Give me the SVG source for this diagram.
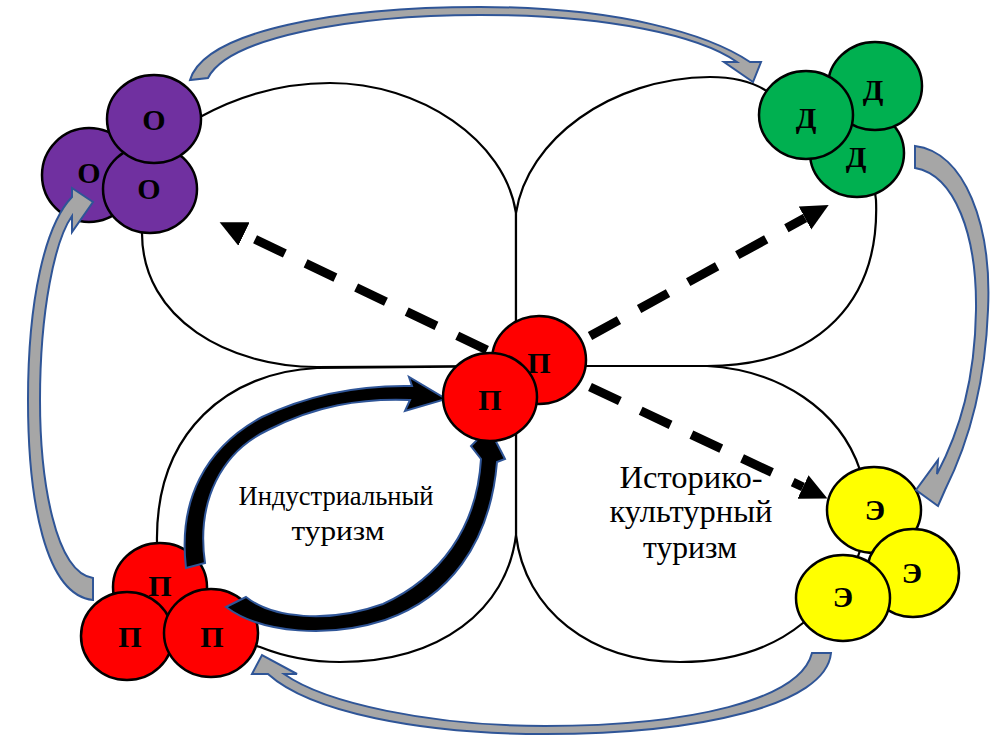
<svg xmlns="http://www.w3.org/2000/svg" width="993" height="736" viewBox="0 0 993 736">
  <defs>
    <style>
      .petal { fill: #ffffff; stroke: #000000; stroke-width: 2.2; stroke-linejoin: round; }
      .dash { fill: none; stroke: #000000; stroke-width: 9; stroke-dasharray: 33 23; marker-end: url(#dhead); }
      .garrow { fill: #A6A6A6; stroke: #2F5597; stroke-width: 2; stroke-linejoin: miter; }
      .barrow { fill: #000000; stroke: #2F5597; stroke-width: 2; stroke-linejoin: miter; }
      .ball { stroke: #000000; stroke-width: 2.5; }
      .purple { fill: #7030A0; }
      .green { fill: #00B050; }
      .red { fill: #FF0000; }
      .yellow { fill: #FFFF00; }
      .lbl { font-family: "Liberation Serif", "DejaVu Serif", serif; font-weight: bold; font-size: 30px; text-anchor: middle; fill: #000000; }
      .cap { font-family: "Liberation Serif", "DejaVu Serif", serif; font-size: 27px; text-anchor: middle; fill: #000000; }
      .cap-lg { font-family: "Liberation Serif", "DejaVu Serif", serif; font-size: 31px; text-anchor: middle; fill: #000000; }
    </style>
    <marker id="dhead" markerUnits="userSpaceOnUse" markerWidth="28" markerHeight="28" viewBox="0 0 28 28" refX="0" refY="14" orient="auto">
      <path d="M0,1 L27,14 L0,27 Z" fill="#000000"/>
    </marker>
  </defs>

  <rect width="993" height="736" fill="#ffffff"/>

  <!-- four lobes meeting at the centre -->
  <g id="petals">
    <path id="petal-tl" class="petal" d="M516,366 L317,367 C230,367 142,320 142,233 C142,180 165,130 200,117 C240,95 285,83 330,83 C420,83 505,140 516,213 Z"/>
    <path id="petal-tr" class="petal" d="M516,366 L516,213 C527,140 610,78 710,77 C735,77 752,82 765,90 C830,120 872,150 876,200 C880,300 820,366 707,366 Z"/>
    <path id="petal-br" class="petal" d="M516,366 L707,366 C780,370 840,410 860,470 C880,530 850,600 803,623 C770,650 730,662 680,662 C590,662 525,610 516,535 Z"/>
    <path id="petal-bl" class="petal" d="M516,366 L317,368 C230,372 155,430 157,543 C157,600 200,630 260,647 C285,657 310,662 340,662 C440,662 507,610 516,535 Z"/>
  </g>

  <!-- labels -->
  <g id="label-industrial">
    <text class="cap" x="336" y="505" textLength="195" lengthAdjust="spacingAndGlyphs">Индустриальный</text>
    <text class="cap" x="338" y="540" textLength="93" lengthAdjust="spacingAndGlyphs">туризм</text>
  </g>
  <g id="label-heritage">
    <text class="cap-lg" x="691" y="488" textLength="143" lengthAdjust="spacingAndGlyphs">Историко-</text>
    <text class="cap-lg" x="691" y="522" textLength="163" lengthAdjust="spacingAndGlyphs">культурный</text>
    <text class="cap-lg" x="690" y="558" textLength="94" lengthAdjust="spacingAndGlyphs">туризм</text>
  </g>

  <!-- dashed links from the centre -->
  <g id="connectors">
    <path class="dash" d="M487,350 L244,234"/>
    <path class="dash" d="M590,336 L805,218"/>
    <path class="dash" d="M590,387 L803,487"/>
  </g>

  <!-- industrial cluster (bottom left) -->
  <g id="node-p-cluster">
    <ellipse class="ball red" cx="160" cy="587" rx="47" ry="44"/>
    <text class="lbl" x="160" y="596">П</text>
    <ellipse class="ball red" cx="127" cy="636" rx="46" ry="44"/>
    <text class="lbl" x="130" y="647">П</text>
    <ellipse class="ball red" cx="211" cy="633" rx="47" ry="44"/>
    <text class="lbl" x="212" y="647">П</text>
  </g>

  <!-- black cycle arrows -->
  <g id="cycle-arrows">
    <path class="barrow" d="M186,568 C178,500 205,448 262,417 C310,394 360,385 412,386 L409,377 L446,399 L405,411 L410,400 C360,398 315,406 268,430 C222,452 196,500 205,563 Z"/>
    <path class="barrow" d="M226,607 C262,634 330,638 385,620 C448,598 490,545 497,462 L505,459 L489,428 L471,446 L481,459 C477,528 440,578 383,604 C328,624 272,618 246,597 Z"/>
  </g>

  <!-- centre pair -->
  <g id="node-p-center">
    <ellipse class="ball red" cx="539" cy="360" rx="47" ry="44"/>
    <text class="lbl" x="539" y="373">П</text>
    <ellipse class="ball red" cx="490" cy="397" rx="47" ry="44"/>
    <text class="lbl" x="490" y="410">П</text>
  </g>

  <g id="node-o">
    <ellipse class="ball purple" cx="89" cy="175" rx="47" ry="47"/>
    <text class="lbl" x="89" y="183">О</text>
    <ellipse class="ball purple" cx="150" cy="189" rx="47" ry="44"/>
    <text class="lbl" x="149" y="199">О</text>
    <ellipse class="ball purple" cx="154" cy="119" rx="47" ry="44"/>
    <text class="lbl" x="154" y="130">О</text>
  </g>

  <g id="node-d">
    <ellipse class="ball green" cx="857" cy="153" rx="47" ry="44"/>
    <text class="lbl" x="856" y="167">Д</text>
    <ellipse class="ball green" cx="875" cy="86" rx="47" ry="44"/>
    <text class="lbl" x="873" y="100">Д</text>
    <ellipse class="ball green" cx="806" cy="115" rx="47" ry="44"/>
    <text class="lbl" x="806" y="128">Д</text>
  </g>

  <g id="node-e">
    <ellipse class="ball yellow" cx="874" cy="510" rx="47" ry="43"/>
    <text class="lbl" x="875" y="520">Э</text>
    <ellipse class="ball yellow" cx="913" cy="573" rx="46" ry="44"/>
    <text class="lbl" x="912" y="583">Э</text>
    <ellipse class="ball yellow" cx="843" cy="598" rx="47" ry="43"/>
    <text class="lbl" x="843" y="607">Э</text>
  </g>

  <!-- grey outer cycle -->
  <g id="outer-arrows">
    <path class="garrow" d="M190,80 C205,30 340,7 480,7 C620,7 710,35 750,62 L761,62 L753,82 L724,62 L737,62 C700,36 610,15 480,15 C350,15 228,38 208,78 Z"/>
    <path class="garrow" d="M915,146 C965,152 992,225 988,310 C985,390 965,450 945,490 L938,506 L916,490 L938,460 L937,474 C960,430 975,380 976,310 C977,235 955,175 915,168 Z"/>
    <path class="garrow" d="M831,653 C826,705 700,734 545,734 C420,734 310,712 268,674 L252,674 L262,655 L297,674 L284,674 C325,703 430,726 545,726 C690,726 800,700 812,653 Z"/>
    <path class="garrow" d="M93,600 C45,595 28,500 28,400 C28,300 45,225 72,197 L72,188 L93,202 L72,232 L72,216 C55,240 40,310 40,400 C40,480 55,572 93,578 Z"/>
  </g>
</svg>
